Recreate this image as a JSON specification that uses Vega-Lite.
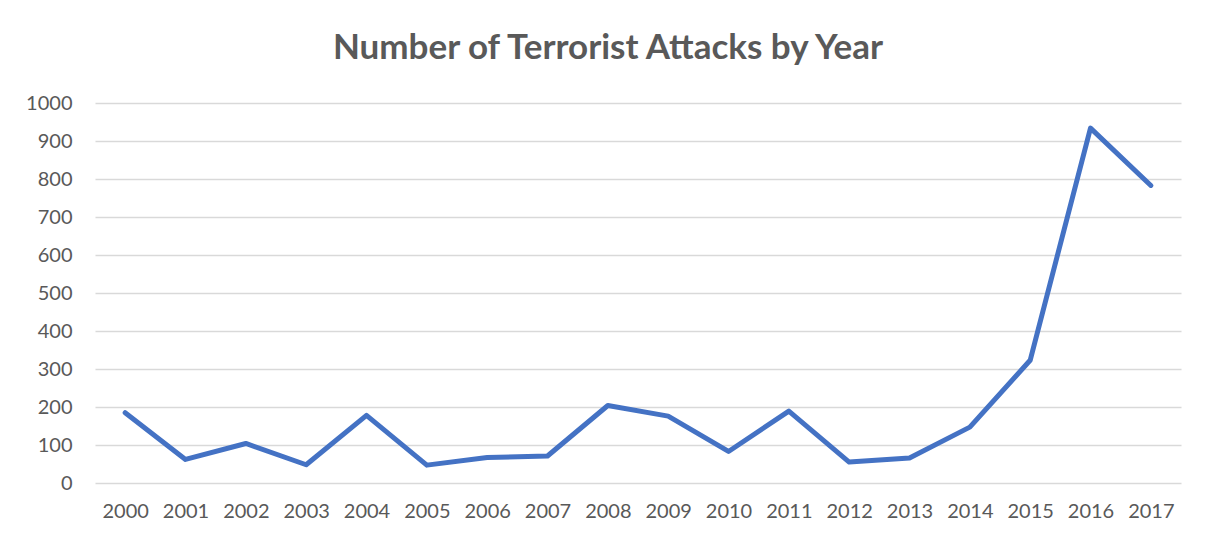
{
  "$schema": "https://vega.github.io/schema/vega-lite/v6.json",
  "width": 1086,
  "height": 380,
  "autosize": {"type": "none"},
  "padding": {"left": 95, "top": 103, "right": 24, "bottom": 57},
  "background": "white",
  "title": {
    "text": "Number of Terrorist Attacks by Year",
    "font": "Lato",
    "fontSize": 35,
    "fontWeight": "bold",
    "color": "#595959",
    "anchor": "middle",
    "dx": -30,
    "offset": 27
  },
  "data": {
    "values": [
      {"year": "2000", "attacks": 185},
      {"year": "2001", "attacks": 62},
      {"year": "2002", "attacks": 104},
      {"year": "2003", "attacks": 48},
      {"year": "2004", "attacks": 178},
      {"year": "2005", "attacks": 47},
      {"year": "2006", "attacks": 67},
      {"year": "2007", "attacks": 71},
      {"year": "2008", "attacks": 204},
      {"year": "2009", "attacks": 176},
      {"year": "2010", "attacks": 83},
      {"year": "2011", "attacks": 189},
      {"year": "2012", "attacks": 55},
      {"year": "2013", "attacks": 66},
      {"year": "2014", "attacks": 147},
      {"year": "2015", "attacks": 323},
      {"year": "2016", "attacks": 934},
      {"year": "2017", "attacks": 783}
    ]
  },
  "mark": {"type": "line", "color": "#4472C4", "strokeWidth": 5, "strokeJoin": "round", "strokeCap": "round"},
  "encoding": {
    "x": {
      "field": "year",
      "type": "ordinal",
      "scale": {"type": "point", "padding": 0.5},
      "axis": {
        "title": null,
        "labelAngle": 0,
        "domain": false,
        "ticks": false,
        "grid": false,
        "labelPadding": 18,
        "labelFont": "Lato",
        "labelFontSize": 20,
        "labelColor": "#595959"
      }
    },
    "y": {
      "field": "attacks",
      "type": "quantitative",
      "scale": {"domain": [0, 1000], "nice": false},
      "axis": {
        "title": null,
        "values": [0, 100, 200, 300, 400, 500, 600, 700, 800, 900, 1000],
        "format": "d",
        "domain": false,
        "ticks": false,
        "gridColor": "#d9d9d9",
        "gridWidth": 1.5,
        "labelPadding": 23,
        "labelFont": "Lato",
        "labelFontSize": 20,
        "labelColor": "#595959"
      }
    }
  },
  "config": {"view": {"stroke": null}}
}
